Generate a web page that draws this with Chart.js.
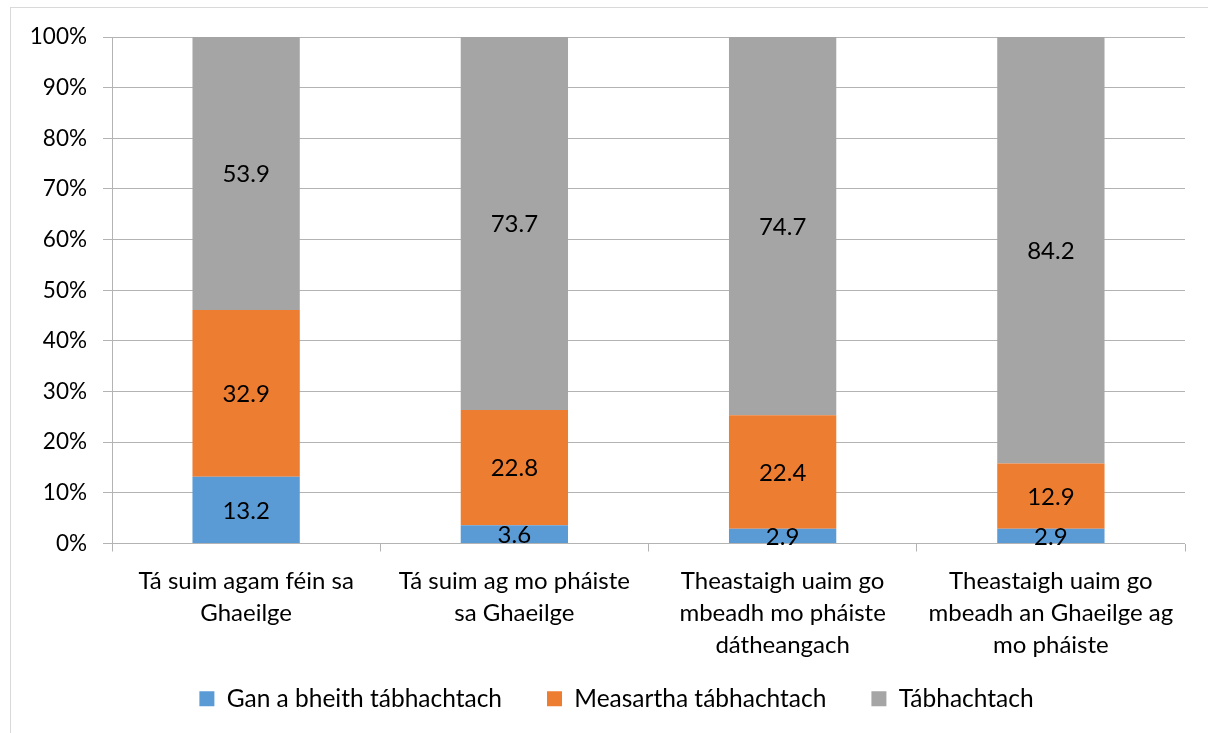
<!DOCTYPE html>
<html>
<head>
<meta charset="utf-8">
<script src="https://cdn.jsdelivr.net/npm/chart.js@4.4.1/dist/chart.umd.min.js"></script>
<style>
  body { margin: 0; background: #fff; }
  #wrap { position: relative; width: 1208px; height: 733px; }
  #frame { position: absolute; left: 10px; top: 7px; width: 1210px; height: 740px; border: 1px solid #d9d9d9; }
  canvas { position: absolute; left: 0; top: 0; }
</style>
</head>
<body>
<div id="wrap">
  <div id="frame"></div>
  <canvas id="chart" width="1208" height="733"></canvas>
</div>
<script>
const categories = [
  ["Tá suim agam féin sa", "Ghaeilge"],
  ["Tá suim ag mo pháiste", "sa Ghaeilge"],
  ["Theastaigh uaim go", "mbeadh mo pháiste", "dátheangach"],
  ["Theastaigh uaim go", "mbeadh an Ghaeilge ag", "mo pháiste"],
];
const seriesNames = ["Gan a bheith tábhachtach", "Measartha tábhachtach", "Tábhachtach"];
const ganABheith = [13.2, 3.6, 2.9, 2.9];
const measartha = [32.9, 22.8, 22.4, 12.9];
const tabhachtach = [53.9, 73.7, 74.7, 84.2];
const colours = ["#5b9bd5", "#ed7d31", "#a5a5a5"];

const FONT = "Lato, 'Open Sans', sans-serif";
const raw = [ganABheith, measartha, tabhachtach];
// 100% stacked: share of each column total
const totals = categories.map((c, i) => raw.reduce((s, arr) => s + arr[i], 0));

const datasets = raw.map((arr, k) => ({
  label: seriesNames[k],
  data: arr.map((v, i) => v / totals[i] * 100),
  rawValues: arr,
  backgroundColor: colours[k],
  barPercentage: 0.4,
  categoryPercentage: 1,
}));

// labels in the middle of each segment
const segmentLabels = {
  id: "segmentLabels",
  afterDatasetsDraw(chart) {
    const ctx = chart.ctx;
    ctx.save();
    ctx.font = "24px " + FONT;
    ctx.fillStyle = "#000";
    ctx.textAlign = "center";
    ctx.textBaseline = "middle";
    chart.data.datasets.forEach((ds, k) => {
      chart.getDatasetMeta(k).data.forEach((bar, i) => {
        const mid = (bar.y + bar.base) / 2;
        ctx.fillText(ds.rawValues[i].toFixed(1), bar.x, mid + 1);
      });
    });
    ctx.restore();
  },
};

// the 3-line category labels run down into the legend band, and the
// legend is centred on the whole frame rather than the plot
const layoutTweaks = {
  id: "layoutTweaks",
  afterLayout(chart) {
    chart.scales.x.bottom = chart.height;
    chart.legend.left += 24;
    chart.legend.right += 24;
  },
};

new Chart(document.getElementById("chart"), {
  type: "bar",
  data: { labels: categories, datasets: datasets },
  options: {
    responsive: false,
    animation: false,
    layout: { padding: { left: 0, right: 23, top: 37, bottom: 12 } },
    plugins: {
      tooltip: { enabled: false },
      legend: {
        position: "bottom",
        labels: {
          boxWidth: 15,
          boxHeight: 15,
          padding: 45,
          color: "#000",
          font: { size: 24.5, family: FONT },
        },
      },
    },
    scales: {
      x: {
        stacked: true,
        grid: { drawOnChartArea: false, tickLength: 8, color: "#b3b3b3" },
        border: { display: false },
        ticks: {
          color: "#000",
          padding: 14,
          maxRotation: 0,
          font: { size: 24, family: FONT, lineHeight: 1.33 },
        },
        afterFit(scale) { scale.height = 98; },
      },
      y: {
        stacked: true,
        min: 0,
        max: 100,
        grid: { color: "#b3b3b3", tickLength: 9 },
        border: { color: "#b3b3b3" },
        ticks: {
          stepSize: 10,
          color: "#000",
          padding: 16,
          font: { size: 22.5, family: FONT },
          callback: (v) => v + "%",
        },
        afterFit(scale) { scale.width = 112; },
      },
    },
  },
  plugins: [segmentLabels, layoutTweaks],
});
</script>
</body>
</html>
